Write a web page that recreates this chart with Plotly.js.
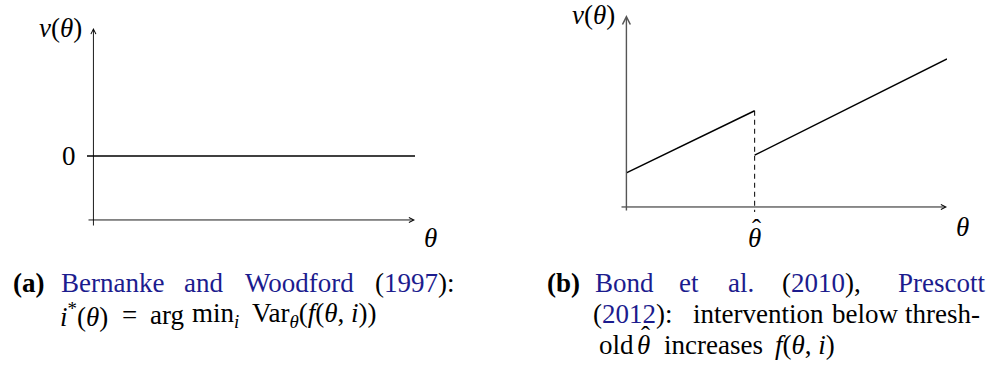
<!DOCTYPE html>
<html>
<head>
<meta charset="utf-8">
<script src="https://cdn.plot.ly/plotly-3.0.1.min.js"></script>
<style>
  html, body { margin: 0; padding: 0; background: #fff; }
  #chart { width: 992px; height: 369px; }
</style>
</head>
<body>
<div id="chart"></div>
<script>
// panel (a): flat value function
const thetaA = [-0.02, 1];
const vA = [0, 0];

// panel (b): jump at the threshold
const thetaHat = 0.4;
const thetaB1 = [0, thetaHat];
const vB1 = [0.23, 0.65];
const thetaB2 = [thetaHat, 1];
const vB2 = [0.35, 1.0];

// axis extents (data units)
const rangeXA = [-0.02, 1];
const rangeYA = [-1.11, 2];
const rangeXB = [-0.02, 1];
const rangeYB = [-0.034, 1.297];
const xAxisLevelA = -1;

const W = 992, H = 369;
const toPaperX = x => x / W;
const toPaperY = y => 1 - y / H;

const serifFamily = 'Liberation Serif';
const textSize = 27;
const citeBlue = '#1c1c8e';
const blue = s => `<span style="color:${citeBlue}">${s}</span>`;
const hatGlyph = 'ˆ';

const traces = [
  { x: thetaA, y: vA, xaxis: 'x', yaxis: 'y', mode: 'lines',
    line: { color: '#000', width: 1.6 } },
  { x: thetaB1, y: vB1, xaxis: 'x2', yaxis: 'y2', mode: 'lines',
    line: { color: '#000', width: 1.5 } },
  { x: thetaB2, y: vB2, xaxis: 'x2', yaxis: 'y2', mode: 'lines',
    line: { color: '#000', width: 1.5 } },
  { x: [thetaHat, thetaHat], y: [vB1[1], rangeYB[0]], xaxis: 'x2', yaxis: 'y2', mode: 'lines',
    line: { color: '#000', width: 1, dash: '5px,4px' } }
];

// axis arrows drawn as annotations
function makeArrow(xr, yr, x0, y0, x1, y1, color, width) {
  return { xref: xr, yref: yr, axref: xr, ayref: yr, x: x1, y: y1, ax: x0, ay: y0,
    text: '', showarrow: true, arrowhead: 5, arrowsize: 1.1, arrowwidth: width || 0.9,
    arrowcolor: color || '#000', standoff: 0, startstandoff: 0 };
}

function makeLabel(xr, yr, x, y, text, opts) {
  return Object.assign({ xref: xr, yref: yr, x: x, y: y, text: text, showarrow: false,
    font: { family: serifFamily, size: textSize, color: '#000' } }, opts);
}

function makeWord(cx, cy, text, anchor) {
  return { xref: 'paper', yref: 'paper', x: toPaperX(cx), y: toPaperY(cy), text: text, showarrow: false,
    xanchor: anchor || 'center', yanchor: 'middle',
    font: { family: serifFamily, size: textSize, color: '#000' } };
}

const annotations = [
  makeArrow('x', 'y', rangeXA[0], xAxisLevelA, rangeXA[1], xAxisLevelA),
  makeArrow('x', 'y', 0, rangeYA[0], 0, rangeYA[1]),
  makeArrow('x2', 'y2', rangeXB[0], 0, rangeXB[1], 0),
  makeArrow('x2', 'y2', 0, rangeYB[0], 0, rangeYB[1], '#555', 1.4),

  makeLabel('x', 'y', 0, rangeYA[1], '<i>v</i>(<i>θ</i>)', { xanchor: 'right', yanchor: 'middle', xshift: -9 }),
  makeLabel('x', 'y', rangeXA[0], 0, '0', { xanchor: 'right', yanchor: 'middle', xshift: -9 }),
  makeLabel('x', 'y', rangeXA[1], xAxisLevelA, '<i>θ</i>', { xanchor: 'center', yanchor: 'middle', xshift: 15, yshift: -18 }),

  makeLabel('x2', 'y2', 0, rangeYB[1], '<i>v</i>(<i>θ</i>)', { xanchor: 'right', yanchor: 'middle', xshift: -9 }),
  makeLabel('x2', 'y2', thetaHat, 0, '<i>θ</i>', { xanchor: 'center', yanchor: 'middle', yshift: -31 }),
  makeLabel('x2', 'y2', thetaHat, 0, hatGlyph, { xanchor: 'center', yanchor: 'middle', xshift: 2, yshift: -22 }),
  makeLabel('x2', 'y2', rangeXB[1], 0, '<i>θ</i>', { xanchor: 'center', yanchor: 'middle', xshift: 15, yshift: -20 }),

  // caption (a)
  makeWord(28, 283, '<b>(a)</b>'),
  makeWord(112, 283, blue('Bernanke')),
  makeWord(203.5, 283, blue('and')),
  makeWord(299, 283, blue('Woodford')),
  makeWord(414.5, 283, '(' + blue('1997') + '):'),
  makeWord(58, 315, '<i>i</i><sup>*</sup>(<i>θ</i>)', 'left'),
  makeWord(120, 315, '=', 'left'),
  makeWord(148, 315, 'arg', 'left'),
  makeWord(190, 315, 'min<sub><i>i</i></sub>', 'left'),
  makeWord(250, 315, 'Var<sub><i>θ</i></sub>(<i>f</i>(<i>θ</i>, <i>i</i>))', 'left'),

  // caption (b)
  makeWord(563, 283, '<b>(b)</b>'),
  makeWord(624.5, 283, blue('Bond')),
  makeWord(688.5, 283, blue('et')),
  makeWord(741, 283, blue('al.')),
  makeWord(821.5, 283, '(' + blue('2010') + '),'),
  makeWord(941, 283, blue('Prescott')),
  makeWord(632.5, 314, '(' + blue('2012') + '):'),
  makeWord(758.5, 314, 'intervention'),
  makeWord(865, 314, 'below'),
  makeWord(942.5, 314, 'thresh-'),
  makeWord(597, 345, 'old', 'left'),
  makeWord(643, 345, '<i>θ</i>'),
  makeWord(645, 336, hatGlyph),
  makeWord(662, 345, 'increases', 'left'),
  makeWord(773, 345, '<i>f</i>(<i>θ</i>, <i>i</i>)', 'left')
];

const hiddenAxis = { visible: false, fixedrange: true };

const layout = {
  width: W, height: H,
  margin: { l: 0, r: 0, t: 0, b: 0 },
  paper_bgcolor: '#fff', plot_bgcolor: 'rgba(0,0,0,0)',
  showlegend: false,
  xaxis: Object.assign({ domain: [toPaperX(87), toPaperX(415)], range: rangeXA, anchor: 'y' }, hiddenAxis),
  yaxis: Object.assign({ domain: [toPaperY(227), toPaperY(28)], range: rangeYA, anchor: 'x' }, hiddenAxis),
  xaxis2: Object.assign({ domain: [toPaperX(620), toPaperX(947)], range: rangeXB, anchor: 'y2' }, hiddenAxis),
  yaxis2: Object.assign({ domain: [toPaperY(212), toPaperY(15)], range: rangeYB, anchor: 'x2' }, hiddenAxis),
  annotations: annotations
};

Plotly.newPlot('chart', traces, layout, { staticPlot: true, displayModeBar: false });
</script>
</body>
</html>
